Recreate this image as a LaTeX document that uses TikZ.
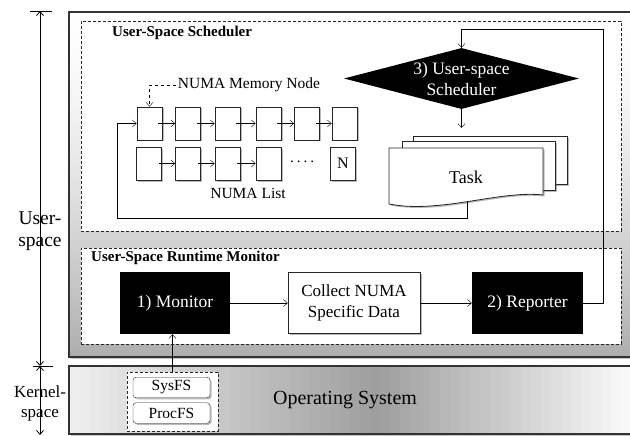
\documentclass[tikz,border=0pt]{standalone}
\usepackage{fontspec}
\setmainfont{Liberation Serif}
\usetikzlibrary{shapes.geometric,arrows.meta,shadows,calc}
\begin{document}
\begin{tikzpicture}[x=1pt,y=-1pt,
  arr/.style={-{Straight Barb[length=4pt,width=7pt]}},
  arrboth/.style={{Straight Barb[length=4pt,width=7pt]}-{Straight Barb[length=4pt,width=7pt]}},
  shad/.style={drop shadow={shadow xshift=1.5pt,shadow yshift=-1.5pt,opacity=0.45,fill=black!60}},
  outerline/.style={draw=black!80,line width=1.3pt},
  dbox/.style={draw=black!85,fill=white,dash pattern=on 3pt off 2pt,line width=0.8pt,inner sep=0},
  title/.style={font=\fontsize{15}{17}\selectfont\bfseries,inner sep=0,anchor=west},
  blk/.style={fill=black,text=white,font=\fontsize{17.5}{21}\selectfont,inner sep=0},
  wbox/.style={draw=black!85,fill=white,font=\fontsize{17}{21}\selectfont,inner sep=0,align=center,shad},
  mem/.style={draw=black!85,fill=white,minimum width=25,minimum height=33,inner sep=0,line width=0.8pt,shad,font=\fontsize{16}{18}\selectfont},
  small/.style={font=\fontsize{15.5}{18}\selectfont,inner sep=2},
  lbl/.style={align=center,inner sep=0},
  page/.style={draw=black!85,fill=white,line width=0.8pt,inner sep=0,anchor=north west,shad},
  fsbox/.style={draw=black!85,fill=white,rounded corners=3,minimum width=77,minimum height=20.5,inner sep=0,shad,font=\fontsize{15.5}{18}\selectfont}
]
\useasboundingbox (0,0) rectangle (630,436);
\fill[white] (0,0) rectangle (630,436);

% ruler
\coordinate (rtop) at (40,11);
\coordinate (rmid) at (40,366);
\coordinate (rbot) at (40,435);
\draw[line width=0.8pt] (30,11) -- (52,11);
\draw[line width=0.8pt] (33,366) -- (53,366);
\draw[arrboth,line width=0.8pt] (rtop) -- (rmid);
\draw[arrboth,line width=0.8pt] (rmid) -- (rbot);
\node[lbl,font=\fontsize{19.5}{22}\selectfont] (ulbl) at (40,231) {User-\\space};
\node[lbl,font=\fontsize{17}{20}\selectfont] (klbl) at (40,403) {Kernel-\\space};

% outer boxes (stepped gradients)
\fill[black!45,opacity=0.5] (71,14) rectangle (633,359);
\foreach \k in {0,...,49} {
  \pgfmathsetmacro\ya{12+\k*6.9}
  \pgfmathsetmacro\yb{min(\ya+7.5,357)}
  \pgfmathsetmacro\p{32*((\k+0.5)/50)^1.5}
  \fill[black!\p] (69,\ya) rectangle (631,\yb);
}
\draw[outerline] (69,12) rectangle (631,357);
\fill[black!45,opacity=0.5] (71,368) rectangle (633,436);
\foreach \k in {0,...,55} {
  \pgfmathsetmacro\xa{69+\k*10.036}
  \pgfmathsetmacro\xb{\xa+10.6}
  \pgfmathsetmacro\t{(\k+0.5)/56}
  \pgfmathsetmacro\p{\t<0.55 ? 6+32*\t/0.55 : 38-36*(\t-0.55)/0.45}
  \fill[black!\p] (\xa,366) rectangle (\xb,434);
}
\draw[outerline] (69,366) rectangle (631,434);

% dashed containers
\node[dbox,minimum width=540,minimum height=210,anchor=north west] (sched) at (81,21) {};
\node[dbox,minimum width=540,minimum height=96,anchor=north west] (rtm) at (81,248) {};
\node[title] (t1) at (112,33) {User-Space Scheduler};
\node[title] (t2) at (91,258) {User-Space Runtime Monitor};

% monitor row
\node[blk,minimum width=110,minimum height=62] (mon) at (175,303) {1) Monitor};
\node[wbox,minimum width=132,minimum height=61] (col) at (354,303) {Collect NUMA\\Specific Data};
\node[blk,minimum width=111,minimum height=62] (rep) at (527.5,303) {2) Reporter};
\draw[arr] (mon) -- (col);
\draw[arr] (col) -- (rep);

% diamond
\node[diamond,fill=black,minimum width=235,minimum height=61,inner sep=0] (dia) at (461.5,78.5) {};
\node[text=white,align=center,font=\fontsize{17.5}{21}\selectfont,inner sep=0] (diat) at (461.5,79) {3) User-space\\Scheduler};
\draw[arr] (rep.east) -| (603,29) -| (dia.north);

% task pages
\node[page,minimum width=154,minimum height=48] (pg3) at (413,136) {};
\node[page,minimum width=153,minimum height=49] (pg2) at (402,141) {};
\draw[draw=black!85,fill=white,line width=0.8pt,shad] (389,148) -- (543,148) -- (543,195) .. controls (500,190) and (440,214) .. (389,204) -- cycle;
\node[font=\fontsize{18}{21}\selectfont] (task) at (466,177) {Task};
\draw[arr,shorten >=8] (dia.south) -- (dia.south |- pg3.north);

% NUMA list nodes
\foreach \i/\x in {1/149.5,2/188,3/227.5,4/268.5,5/307,6/344.5}
  \node[mem] (a\i) at (\x,123.5) {};
\foreach \i/\x in {1/149,2/188,3/227.5,4/268.5}
  \node[mem] (b\i) at (\x,163.5) {};
\node[mem] (bN) at (343,163.5) {N};
\node[font=\fontsize{15}{18}\selectfont,inner sep=0] (dots) at (302,162) {.\hspace{3pt}.\hspace{3pt}.\hspace{3pt}.};
\foreach \i/\j in {1/2,2/3,3/4,4/5,5/6}
  \draw[arr] ([xshift=-4pt]a\i.east) -- (a\j.west);
\foreach \i/\j in {1/2,2/3,3/4}
  \draw[arr] ([xshift=-3pt]b\i.east) -- (b\j.west);
\node[small] (mmn) at (249,85) {NUMA Memory Node};
\draw[arr,dashed] (mmn.west) -| (a1.north);
\node[small] (nl) at (248,193) {NUMA List};

% loop from task back to list
\coordinate (tb) at (467,201.5);
\draw[arr] (tb) |- (117,218) |- (a1.west);

% kernel
\node[dbox,minimum width=91,minimum height=59] (fs) at (172.5,401.5) {};
\node[fsbox] (sys) at (171.5,387.5) {SysFS};
\node[fsbox] (proc) at (171.5,413) {ProcFS};
\draw[arr] (fs.north) -- (fs.north |- mon.south);
\node[font=\fontsize{20}{24}\selectfont] (os) at (345,400) {Operating System};
\end{tikzpicture}
\end{document}
